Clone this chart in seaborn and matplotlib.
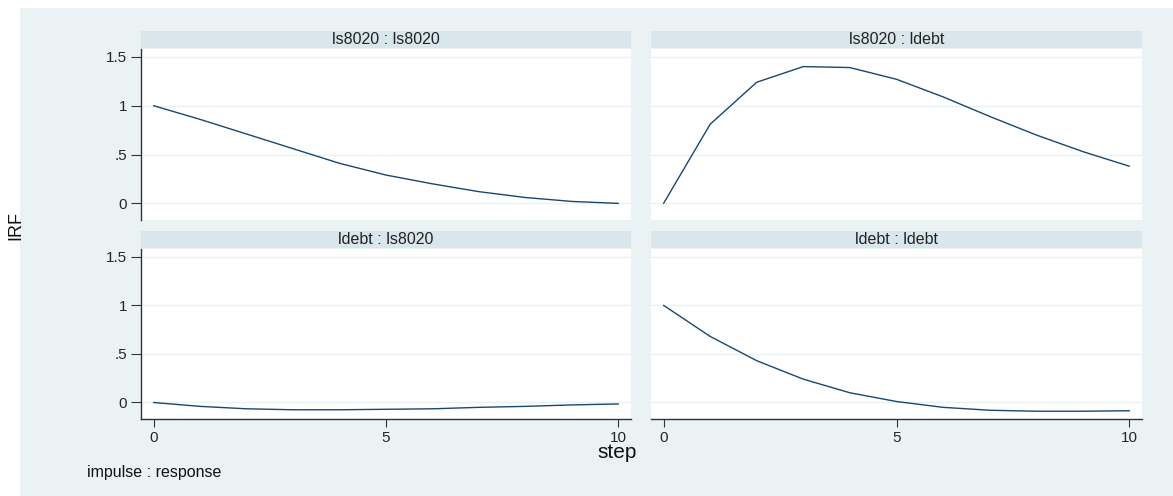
import numpy as np
import pandas as pd
import matplotlib
matplotlib.use("Agg")
import matplotlib.pyplot as plt
from matplotlib.patches import Rectangle
import seaborn as sns

# impulse response values
steps = list(range(11))
irf_ls_ls = [1.0, 0.86, 0.71, 0.56, 0.41, 0.29, 0.20, 0.12, 0.06, 0.02, 0.0]
irf_ls_ldebt = [0.0, 0.81, 1.24, 1.40, 1.39, 1.27, 1.09, 0.89, 0.70, 0.53, 0.38]
irf_ldebt_ls = [0.0, -0.04, -0.065, -0.075, -0.075, -0.07, -0.065, -0.05, -0.04, -0.025, -0.015]
irf_ldebt_ldebt = [1.0, 0.68, 0.43, 0.24, 0.10, 0.01, -0.05, -0.08, -0.09, -0.09, -0.085]

panel_titles = ["ls8020 : ls8020", "ls8020 : ldebt", "ldebt : ls8020", "ldebt : ldebt"]
series = [irf_ls_ls, irf_ls_ldebt, irf_ldebt_ls, irf_ldebt_ldebt]
y_ticks = [0, 0.5, 1, 1.5]
y_ticklabels = ["0", ".5", "1", "1.5"]
x_ticks = [0, 5, 10]

frames = []
for title, vals in zip(panel_titles, series):
    frames.append(pd.DataFrame({"step": steps, "irf": vals, "panel": title}))
df = pd.concat(frames, ignore_index=True)

BG = "#eaf2f3"
STRIP = "#d9e6eb"
LINE = "#1a476f"

sns.set_theme(style="white")
plt.rcParams["font.family"] = ["Liberation Sans", "DejaVu Sans"]

g = sns.FacetGrid(df, col="panel", col_wrap=2, col_order=panel_titles,
                  sharex=True, sharey=True, height=2, aspect=2)
g.map_dataframe(sns.lineplot, x="step", y="irf", color=LINE, linewidth=1.0)

fig = g.figure
fig.set_size_inches(11.73, 4.96)
fig.set_dpi(100)
fig.patch.set_facecolor("white")
fig.patches.append(Rectangle((20 / 1173, 0), 1, 1 - 8 / 496, transform=fig.transFigure,
                             facecolor=BG, edgecolor="none", zorder=-10))

W, H = 1173.0, 496.0
# (left, right, top, bottom) in pixels for each plot area
boxes = [(141, 631, 49, 220), (651, 1142, 49, 220),
         (141, 631, 249, 419), (651, 1142, 249, 419)]

for i, (ax, title) in enumerate(zip(g.axes.flat, panel_titles)):
    l, r, t, b = boxes[i]
    ax.set_position([l / W, 1 - b / H, (r - l) / W, (b - t) / H])
    ax.set_facecolor("white")
    ax.set_xlim(-0.27, 10.27)
    ax.set_ylim(-0.17, 1.58)
    ax.set_title("")
    ax.set_xlabel("")
    ax.set_ylabel("")
    for y in y_ticks:
        ax.axhline(y, color=BG, linewidth=1.0, zorder=0)
    for s in ["top", "right"]:
        ax.spines[s].set_visible(False)
    col, row = i % 2, i // 2
    ax.spines["left"].set_visible(col == 0)
    ax.spines["bottom"].set_visible(row == 1)
    ax.spines["left"].set_color("#333333")
    ax.spines["bottom"].set_color("#333333")
    ax.spines["left"].set_linewidth(1.0)
    ax.spines["bottom"].set_linewidth(1.0)

    ax.set_yticks(y_ticks)
    if col == 0:
        ax.set_yticklabels(y_ticklabels, fontsize=11)
        ax.tick_params(axis="y", left=True, length=7, width=0.8, color="#333333", pad=3)
    else:
        ax.tick_params(axis="y", left=False, labelleft=False)
    ax.set_xticks(x_ticks)
    if row == 1:
        ax.set_xticklabels([str(x) for x in x_ticks], fontsize=11)
        ax.tick_params(axis="x", bottom=True, length=6, width=0.8, color="#333333",
                       pad=3, labelbottom=True)
    else:
        ax.tick_params(axis="x", bottom=False, labelbottom=False)

    # strip header
    strip_h = 17.5 / (b - t)
    ax.add_patch(Rectangle((0, 1 + 0.003), 1, strip_h, transform=ax.transAxes,
                           facecolor=STRIP, edgecolor="none", clip_on=False))
    ax.text(0.5, 1 + 0.003 + strip_h / 2, title, transform=ax.transAxes,
            ha="center", va="center", fontsize=11.5, color="#222222")

fig.text(16 / W, 1 - 225 / H, "IRF", rotation=90, ha="center", va="center",
         fontsize=13, color="#111111")
fig.text(617 / W, 1 - 453 / H, "step", ha="center", va="center",
         fontsize=15, color="#111111")
fig.text(87 / W, 1 - 473 / H, "impulse : response", ha="left", va="center",
         fontsize=11.5, color="#111111")

fig.savefig("out.png", dpi=100, facecolor=fig.get_facecolor())
